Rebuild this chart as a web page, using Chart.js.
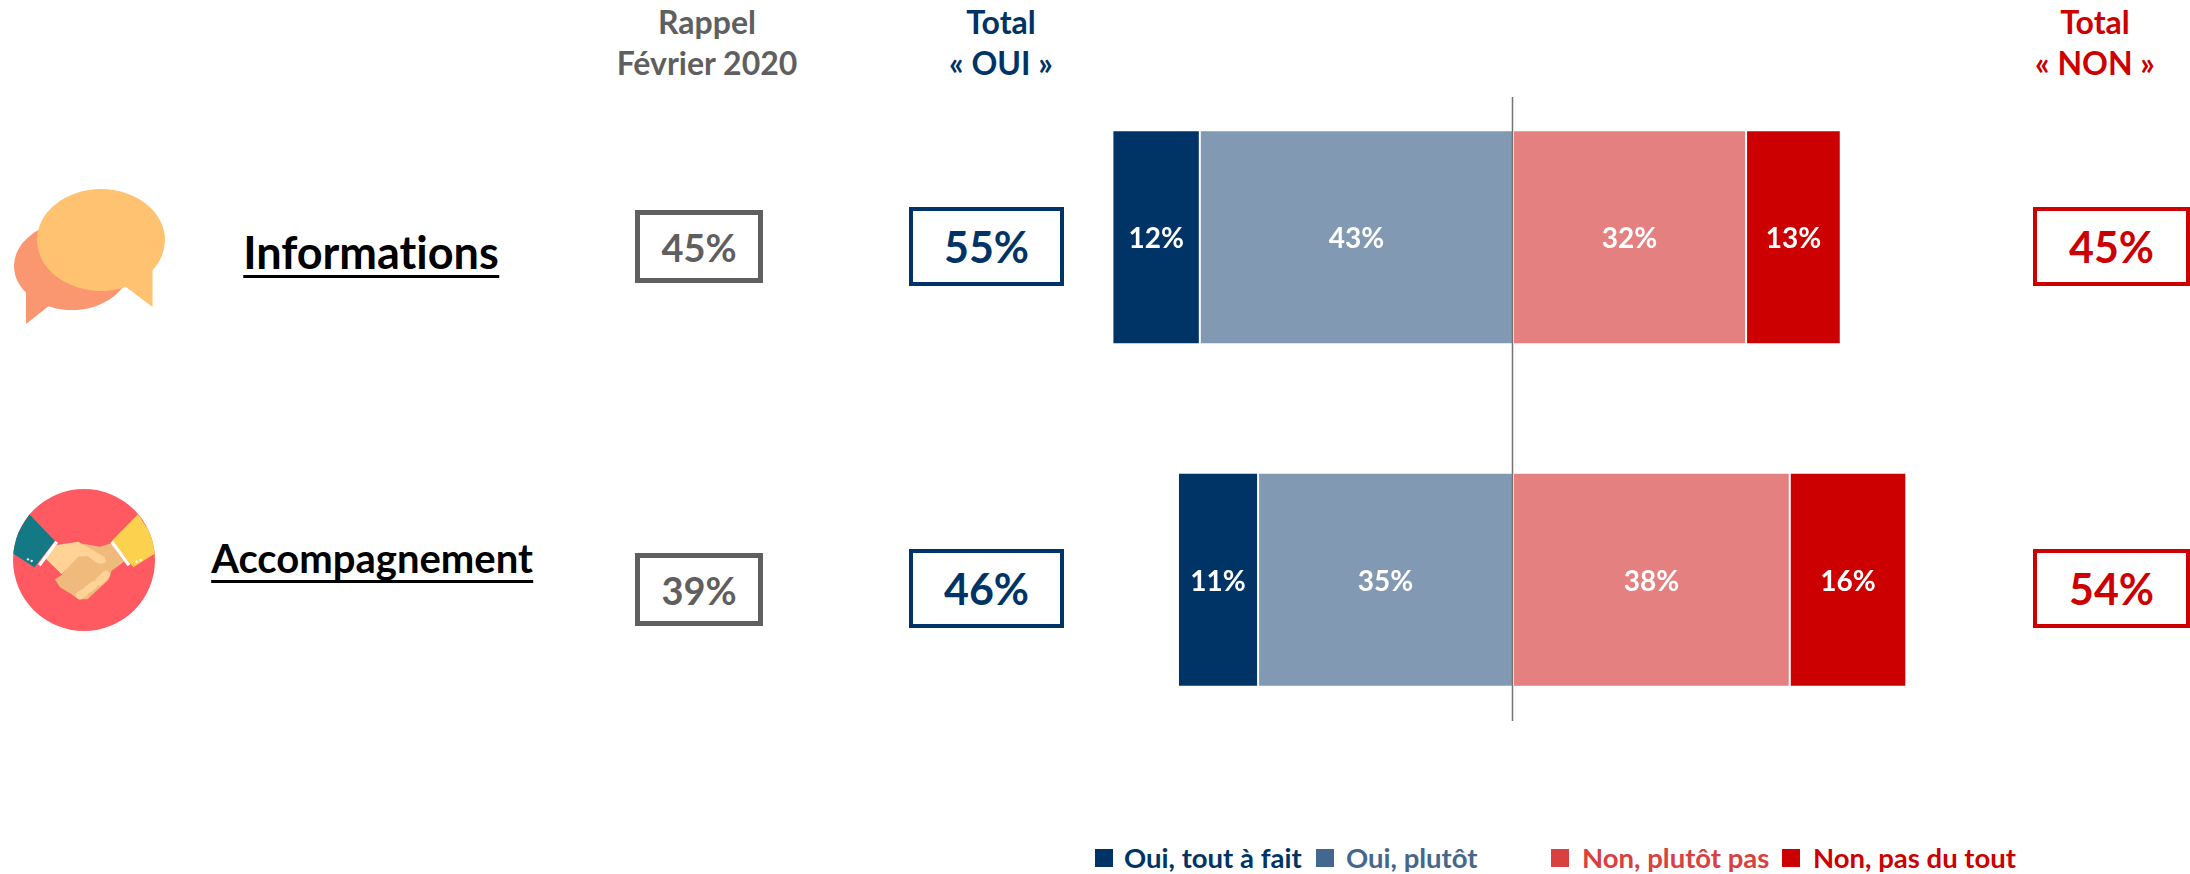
<!DOCTYPE html>
<html lang="fr">
<head>
<meta charset="utf-8">
<title>Informations et accompagnement</title>
<script src="https://cdn.jsdelivr.net/npm/chart.js@4"></script>
<style>
  html, body { margin: 0; padding: 0; background: #fff; }
  #page { position: relative; width: 2190px; height: 874px; overflow: hidden; font-family: Lato, "Open Sans", sans-serif; font-weight: 700; font-variant-ligatures: none; }
  #page > * { position: absolute; }
  #bars { left: 1076px; top: 66px; }
  .head { transform: translateX(-50%); text-align: center; font-size: 32px; line-height: 41px; white-space: nowrap; top: 1px; }
  .pct { box-sizing: border-box; display: flex; align-items: center; justify-content: center; background: #fff; }
  .name { transform: translateX(-50%); color: #000; border-bottom: 3px solid #000; white-space: nowrap; }
  .sw { width: 18px; height: 18px; top: 849px; }
  .lg { top: 843px; font-size: 27.5px; line-height: 30px; white-space: nowrap; }
</style>
</head>
<body>
<div id="page">
  <canvas id="bars" width="874" height="685" style="width:874px;height:685px"></canvas>

  <svg style="left:0;top:150px" width="200" height="190" viewBox="0 0 200 190">
    <ellipse cx="72" cy="116" rx="58" ry="44" fill="#FA9770"/>
    <polygon points="26,135 26,174 50,155 70,150" fill="#FA9770"/>
    <polygon points="152.5,115 152.5,157 126,137 100,130" fill="#FFC271"/>
    <ellipse cx="101" cy="90" rx="64" ry="51" fill="#FFC271"/>
  </svg>

  <svg style="left:0;top:480px" width="170" height="160" viewBox="0 0 510 480">
    <defs><clipPath id="disc"><circle cx="252" cy="240" r="213"/></clipPath></defs>
    <circle cx="252" cy="240" r="213" fill="#FF5A62"/>
    <g clip-path="url(#disc)">
      <polygon points="88,103 165,183 103,262 20,208" fill="#137A85"/>
      <polygon points="414,103 335,183 400,262 484,208" fill="#FCD14D"/>
    </g>
    <polygon points="240,190 300,200 333,190 372,245 335,272 325,300 262,358 235,358 210,340 180,322 165,298 185,285 225,235" fill="#F0BA7D"/>
    <polygon points="133,232 170,195 235,185 268,205 315,232 318,245 305,252 290,248 262,228 235,230 185,283" fill="#FFD295"/>
    <g stroke="#FFD295" stroke-width="24" stroke-linecap="round">
      <line x1="318" y1="284" x2="298" y2="304"/>
      <line x1="280" y1="316" x2="264" y2="328"/>
      <line x1="252" y1="338" x2="240" y2="346"/>
    </g>
    <g stroke="#fff" stroke-width="10">
      <line x1="170" y1="185" x2="118" y2="256"/>
      <line x1="335" y1="185" x2="387" y2="256"/>
    </g>
    <g fill="#fff">
      <circle cx="84" cy="238" r="3.5"/><circle cx="95" cy="243" r="3.5"/>
      <circle cx="410" cy="245" r="3.5"/><circle cx="422" cy="240" r="3.5"/>
    </g>
  </svg>
</div>

<script>
const categories = ['Informations', 'Accompagnement'];
const seriesNames = ['Oui, tout à fait', 'Oui, plutôt', 'Non, plutôt pas', 'Non, pas du tout'];
const ouiToutAFait = [12, 11];
const ouiPlutot = [43, 35];
const nonPlutotPas = [32, 38];
const nonPasDuTout = [13, 16];
const rappel = [45, 39];
const totalOui = [55, 46];
const totalNon = [45, 54];

const NAVY = '#003366', RED = '#CC0000', GREY = '#5F5F5F';
const page = document.getElementById('page');

function add(cls, css, html) {
  const d = document.createElement('div');
  d.className = cls;
  d.style.cssText = css;
  d.innerHTML = html;
  page.appendChild(d);
  return d;
}

// column headers
add('head', `left:707px;color:${GREY}`, 'Rappel<br>Février 2020');
add('head', `left:1001px;color:${NAVY}`, 'Total<br>« OUI »');
add('head', `left:2095px;color:${RED}`, 'Total<br>« NON »');

// row names, sized one by one to keep the original widths
add('name', 'left:371px;top:229px;font-size:45px;line-height:46px', categories[0]);
add('name', 'left:372px;top:536px;font-size:40px;line-height:44px', categories[1]);

// boxed totals
function box(x, y, w, h, bw, size, color, val) {
  add('pct', `left:${x}px;top:${y}px;width:${w}px;height:${h}px;border:${bw}px solid ${color};color:${color};font-size:${size}px`, val + '%');
}
[[210, 207], [553, 549]].forEach(([yr, yt], i) => {
  box(635, yr, 128, 73, 5, 38, GREY, rappel[i]);
  box(909, yt, 155, 79, 4, 43, NAVY, totalOui[i]);
  box(2033, yt, 157, 79, 4, 43, RED, totalNon[i]);
});

// legend, the gaps are not regular in the original
const legendColors = [NAVY, '#44678F', '#D94040', RED];
const legendSw = [1095, 1316, 1551, 1782];
const legendTxt = [1124, 1346, 1582, 1813];
seriesNames.forEach((n, i) => {
  add('sw', `left:${legendSw[i]}px;background:${legendColors[i]}`, '');
  add('lg', `left:${legendTxt[i]}px;color:${legendColors[i]}`, n);
});

const neg = (a) => a.map(v => -v);

// draws the xx% inside each segment
const segmentLabels = {
  id: 'segmentLabels',
  afterDatasetsDraw(c) {
    const { ctx } = c;
    ctx.save();
    ctx.fillStyle = '#fff';
    ctx.font = '700 28px Lato, sans-serif';
    ctx.textAlign = 'center';
    ctx.textBaseline = 'middle';
    c.data.datasets.forEach((ds, i) => {
      c.getDatasetMeta(i).data.forEach((bar, j) => {
        const p = bar.getCenterPoint();
        ctx.fillText(Math.abs(ds.data[j]) + '%', p.x, p.y + 2);
      });
    });
    ctx.restore();
  }
};

// vertical axis at 0
const zeroLine = {
  id: 'zeroLine',
  afterDatasetsDraw(c) {
    const x = Math.round(c.scales.x.getPixelForValue(0)) - 0.5;
    const { ctx } = c;
    ctx.save();
    ctx.strokeStyle = '#737373';
    ctx.lineWidth = 1.5;
    ctx.beginPath();
    ctx.moveTo(x, 31);
    ctx.lineTo(x, 655);
    ctx.stroke();
    ctx.restore();
  }
};

const seg = (label, data, color) => ({
  label, data, backgroundColor: color,
  borderColor: '#fff', borderWidth: 1, borderSkipped: false,
  barPercentage: 0.625, categoryPercentage: 1
});

new Chart(document.getElementById('bars'), {
  type: 'bar',
  data: {
    labels: categories,
    datasets: [
      // closest to zero first
      seg(seriesNames[1], neg(ouiPlutot), '#8199B2'),
      seg(seriesNames[0], neg(ouiToutAFait), NAVY),
      seg(seriesNames[2], nonPlutotPas, '#E58080'),
      seg(seriesNames[3], nonPasDuTout, RED)
    ]
  },
  options: {
    indexAxis: 'y',
    responsive: false,
    animation: false,
    layout: { padding: 0 },
    plugins: { legend: { display: false }, tooltip: { enabled: false } },
    scales: {
      x: { stacked: true, min: -60, max: 60, display: false },
      y: { stacked: true, display: false }
    }
  },
  plugins: [zeroLine, segmentLabels]
});
</script>
</body>
</html>
